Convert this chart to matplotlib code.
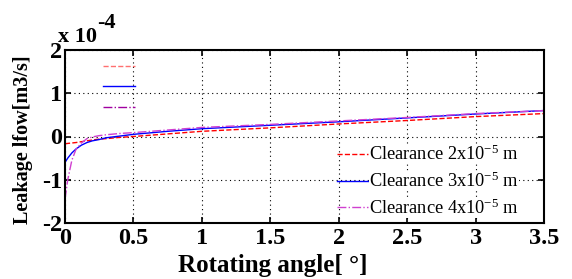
import matplotlib
matplotlib.use("Agg")
import matplotlib.pyplot as plt
from matplotlib.lines import Line2D

plt.rcParams['font.family'] = ['Liberation Serif', 'DejaVu Serif']
plt.rcParams['mathtext.fontset'] = 'custom'
plt.rcParams['mathtext.rm'] = 'Liberation Serif'
plt.rcParams['mathtext.it'] = 'Liberation Serif:italic'
plt.rcParams['mathtext.bf'] = 'Liberation Serif:bold'

# Data (leakage flow in units of 1e-4 m3/s)
angle = [0, 0.02, 0.05, 0.08, 0.12, 0.16, 0.2, 0.25, 0.3, 0.4, 0.5, 0.75, 1.0, 1.5, 2.0, 2.5, 3.0, 3.5]
flow_2e5 = [-0.17, -0.16, -0.15, -0.14, -0.12, -0.10, -0.08, -0.06, -0.05, -0.02, 0.00, 0.06, 0.12, 0.20, 0.29, 0.37, 0.46, 0.53]
flow_3e5 = [-0.60, -0.50, -0.38, -0.29, -0.20, -0.14, -0.10, -0.07, -0.03, 0.01, 0.05, 0.12, 0.18, 0.26, 0.34, 0.43, 0.52, 0.60]
flow_4e5 = [-1.45, -1.00, -0.55, -0.30, -0.15, -0.05, -0.01, 0.02, 0.04, 0.07, 0.09, 0.15, 0.21, 0.28, 0.36, 0.44, 0.53, 0.60]
labels = ['Clearance 2x10$^{-5}$ m', 'Clearance 3x10$^{-5}$ m', 'Clearance 4x10$^{-5}$ m']
xticks = [0, 0.5, 1, 1.5, 2, 2.5, 3, 3.5]
xticklabels = ['0', '0.5', '1', '1.5', '2', '2.5', '3', '3.5']
yticks = [-2, -1, 0, 1, 2]
yticklabels = ['-2', '-1', '0', '1', '2']

fig = plt.figure(figsize=(5.72, 2.79), dpi=100)
W, H = 572, 279
ax = fig.add_axes([65 / W, 1 - 223 / H, (544 - 65) / W, (223 - 50) / H])

l1, = ax.plot(angle, flow_2e5, color='#ff0000', ls='--', lw=1.0, label=labels[0])
l2, = ax.plot(angle, flow_3e5, color='#0000ff', ls='-', lw=1.0, label=labels[1])
l3, = ax.plot(angle, flow_4e5, color='#d040d0', ls='-.', lw=1.0, label=labels[2])

ax.set_xlim(0, 3.5)
ax.set_ylim(-2, 2)
ax.set_xticks(xticks)
ax.set_xticklabels(xticklabels, fontsize=17.5, fontweight='bold')
ax.set_yticks(yticks)
ax.set_yticklabels(yticklabels, fontsize=17.5, fontweight='bold')
ax.tick_params(axis='x', direction='in', top=True, length=4, width=1.2, pad=3.5)
ax.tick_params(axis='y', direction='in', right=True, length=4, width=1.2, pad=2)
ax.grid(True, color='black', ls=(0, (1, 3)), lw=0.8)
for s in ax.spines.values():
    s.set_linewidth(1.5)

ax.set_xlabel('Rotating angle[ °]', fontsize=18, fontweight='bold')
ax.xaxis.set_label_coords((272.5 - 65) / 479, (223 - 254) / 173)
ax.set_ylabel('Leakage lfow[m3/s]', fontsize=14.5, fontweight='bold')
ax.yaxis.set_label_coords((33 - 65) / 479, (223 - 140) / 173)

t1 = ax.text((58 - 65) / 479, (223 - 42) / 173, 'x 10', transform=ax.transAxes,
             fontsize=16, fontweight='bold', ha='left', va='baseline')
ax.annotate('-4', xy=(1.0, 0.72), xycoords=t1, fontsize=16, fontweight='bold',
            ha='left', va='bottom')

leg = ax.legend(loc='upper left', bbox_to_anchor=((337 - 65) / 479, (223 - 145) / 173),
                frameon=False, fontsize=13.2, handlelength=1.7, handletextpad=0.05,
                labelspacing=0.39, borderpad=0, borderaxespad=0)
for t in leg.get_texts():
    t.set_bbox(dict(facecolor='white', edgecolor='none', pad=0))

# empty legend remnant in top-left
h = [Line2D([], [], color='#ff7070', ls='--', lw=1.0),
     Line2D([], [], color='#0000ff', ls='-', lw=1.0),
     Line2D([], [], color='#a000a0', ls='-.', lw=1.0)]
leg2 = ax.legend(h, ['', '', ''], loc='upper left',
                 bbox_to_anchor=((103 - 65) / 479, (223 - 60.4) / 173),
                 frameon=False, fontsize=10, handlelength=2.3, labelspacing=0.56,
                 borderpad=0, borderaxespad=0)
ax.add_artist(leg)

fig.savefig('out.png', dpi=100)
